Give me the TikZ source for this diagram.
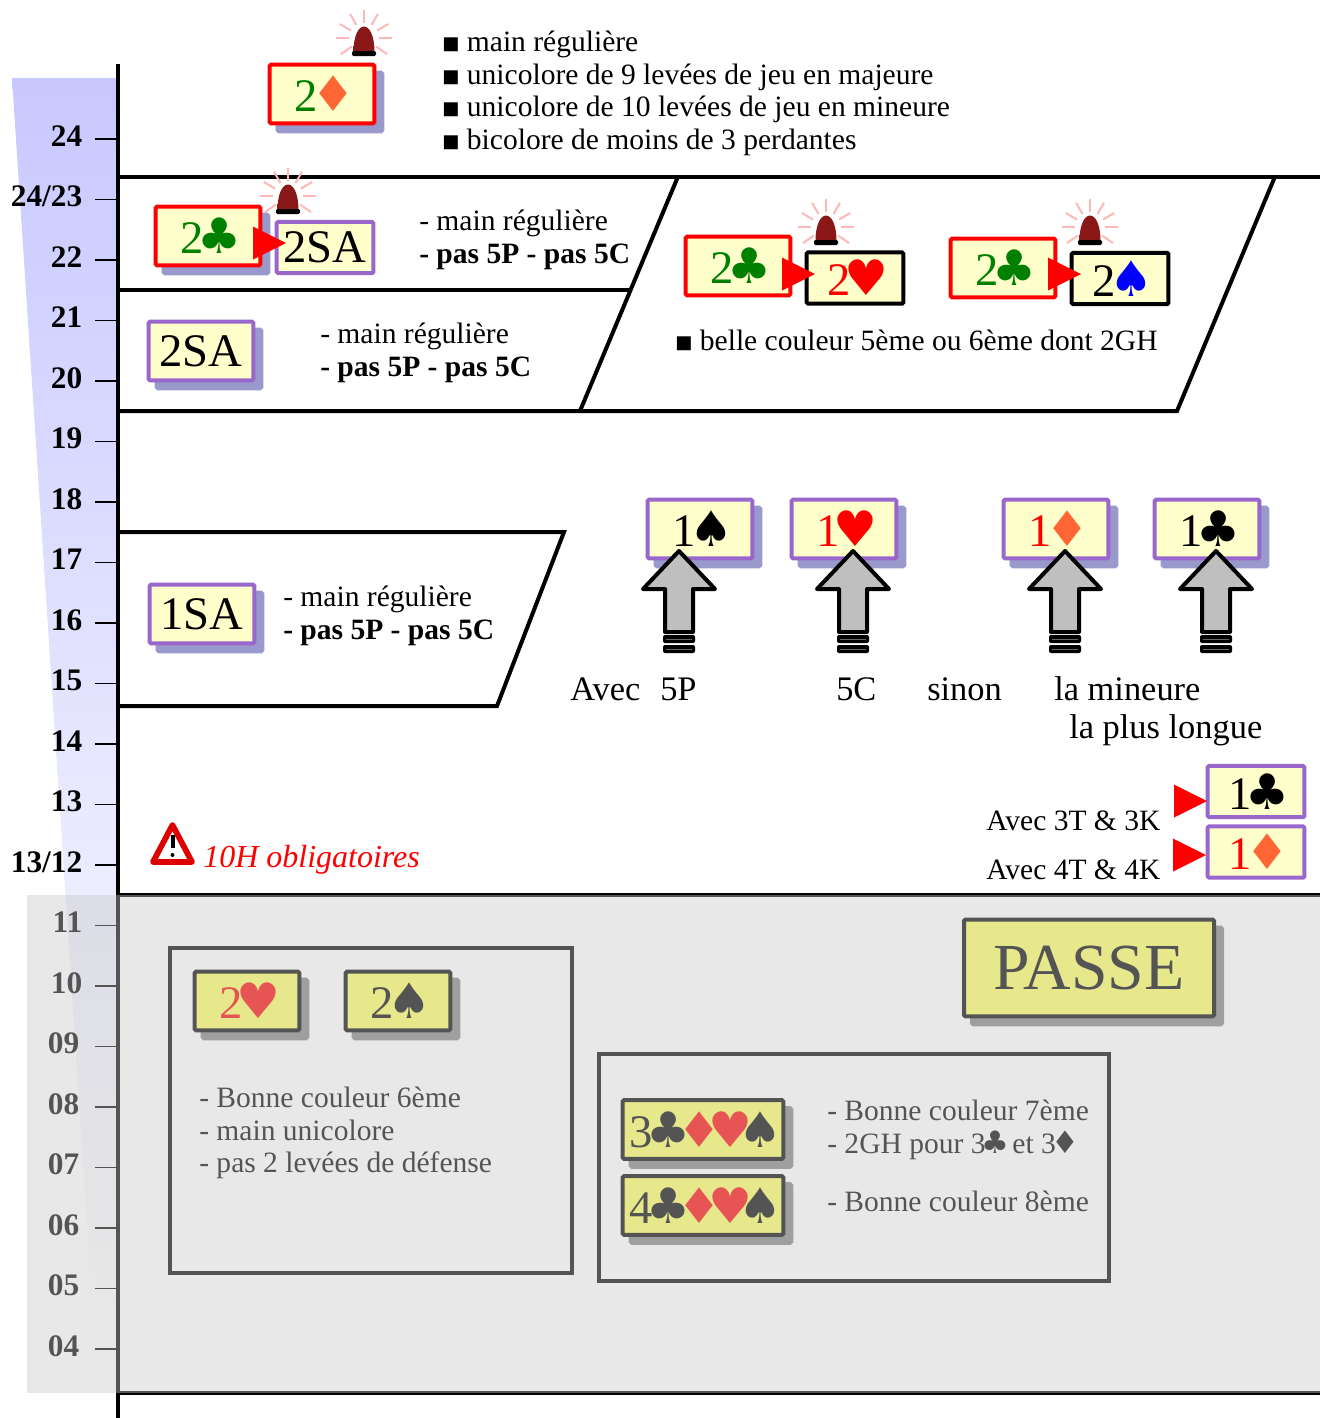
\documentclass[tikz,border=0pt]{standalone}
\usepackage{fontspec}
\setmainfont{Liberation Serif}
\newfontfamily\suitfont[Scale=1.05]{DejaVu Sans}
\usetikzlibrary{shadows}

\definecolor{cartefond}{HTML}{FFFFCC}
\definecolor{cartevif}{HTML}{FFFF60}
\definecolor{violet}{HTML}{9966CC}
\definecolor{ombre}{HTML}{9999CC}
\definecolor{ombregris}{HTML}{828282}
\definecolor{orange}{HTML}{FF6633}
\definecolor{vert}{HTML}{008000}
\definecolor{bandeau}{HTML}{C8C8FF}
\definecolor{domebord}{HTML}{8A1818}
\definecolor{domemilieu}{HTML}{C04040}

\newcommand{\trefle}{\kern-.14em{\suitfont ♣}\kern-.14em}
\newcommand{\carreau}{\kern-.14em{\suitfont ♦}\kern-.14em}
\newcommand{\coeur}{\kern-.14em{\suitfont ♥}\kern-.14em}
\newcommand{\pique}{\kern-.14em{\suitfont ♠}\kern-.14em}
\newcommand{\puce}{\raisebox{1.5pt}{\suitfont\fontsize{13}{13}\selectfont ■}\hspace{5.6pt}}
\newcommand{\corps}{\fontsize{22.15}{24.4}\selectfont}
\newcommand{\grand}{\fontsize{25.8}{28.5}\selectfont}

\tikzset{
    trait/.style={line width=3pt},
    carte/.style={rectangle, rounded corners=1pt, draw=violet, line width=3pt, fill=cartefond,
        inner sep=0pt, minimum width=78.5pt, minimum height=44pt, font=\fontsize{35}{35}\selectfont},
    petite/.style={carte, minimum width=72.5pt, minimum height=38.5pt},
    rouge/.style={draw=red},
    noire/.style={draw=black},
    ombree/.style={drop shadow={shadow xshift=6pt, shadow yshift=-6pt, draw=ombre, fill=ombre, opacity=1}},
    passee/.style={carte, draw=black, fill=cartevif,
        drop shadow={shadow xshift=6pt, shadow yshift=-6pt, draw=ombregris, fill=ombregris, opacity=1}},
    texte/.style={anchor=west, align=left, inner sep=0pt, font=\corps},
    cadre/.style={draw=black, line width=3pt},
    graduation/.style={draw=black, line width=1pt},
    pointe/.pic={\fill[red] (0,-16.5) -- (33,0) -- (0,16.5) -- cycle;},
    alarme/.pic={
        \foreach \ang in {-90,-60,-120,-30,-150,0,180,35,145}
            \draw[line width=1.5pt, color=red!28] (\ang:15) -- (\ang:28);
        \shade[left color=domebord, middle color=domemilieu, right color=domebord]
            (-10.5,14) .. controls (-10.5,-20) and (10.5,-20) .. (10.5,14) -- cycle;
        \fill[black, rounded corners=1pt] (-12,13) rectangle (12,18);
    },
    fleche/.pic={
        \draw[line width=3pt, fill=black!25, line join=round]
            (0,0) -- (36,38) -- (14,38) -- (14,81) -- (-14,81) -- (-14,38) -- (-36,38) -- cycle;
        \foreach \yy in {84,94} {
            \fill[black, rounded corners=1.5pt] (-16,\yy) rectangle (16,\yy+8);
            \draw[line width=.7pt, color=black!60] (-13,\yy+4) -- (13,\yy+4);
        }
    },
}

\begin{document}
\begin{tikzpicture}[x=0.75pt, y=-0.75pt]
    \useasboundingbox (0,0) rectangle (1320,1418);

    % bandeau des points
    \shade[top color=bandeau, bottom color=white] (12,78) -- (118,78) -- (118,1300) -- (92,1300) -- cycle;

    \foreach \lab/\lx [count=\i] in {24/82.5,{24/23}/82.5,22/82.5,21/82.5,20/82.5,19/82.5,18/82.5,17/82.5,16/82.5,15/82.5,14/82.5,13/82.5,{13/12}/82.5,11/82.5,10/82.5,09/79.5,08/79.5,07/79.5,06/79.5,05/79.5,04/79.5} {
        \pgfmathsetmacro{\yy}{139+60.5*(\i-1)}
        \draw[graduation] (95,\yy) -- (117,\yy);
        \node[anchor=east, inner sep=0pt, font=\bfseries\fontsize{23.5}{23.5}\selectfont] (lab\i) at (\lx,\yy-3) {\lab};
    }

    \coordinate (h1) at (118,176.5);
    \coordinate (h2) at (1320,176.5);
    \coordinate (m1) at (118,290);
    \coordinate (m2) at (630,290);
    \coordinate (b1) at (118,411);
    \coordinate (b2) at (580,411);
    \coordinate (b3) at (1177,411);
    \coordinate (t1) at (678,176.5);
    \coordinate (t2) at (1275,176.5);
    \coordinate (s1) at (118,532);
    \coordinate (s2) at (564,532);
    \coordinate (s3) at (497,706);
    \coordinate (s4) at (118,706);
    \coordinate (g1) at (118,894.5);
    \coordinate (g2) at (1320,894.5);
    \coordinate (g3) at (118,1393);
    \coordinate (g4) at (1320,1393);

    \draw[trait] (118,64) -- (118,1418);
    \draw[trait] (h1) -- (h2);
    \draw[trait] (m1) -- (m2);
    \draw[trait] (b1) -- (b3) -- (t2);
    \draw[trait] (b2) -- (t1);
    \draw[trait] (s1) -- (s2) -- (s3) -- (s4);
    \draw[trait] (g1) -- (g2);
    \draw[trait] (g3) -- (g4);

    % forts
    \pic at (364,38) {alarme};
    \node[carte, rouge, ombree] (deuxk) at (322,94) {\textcolor{vert}{2}\textcolor{orange}{\carreau}};
    \node[texte] (liste) at (442,93.5) {\puce main régulière\\\puce unicolore de 9 levées de jeu en majeure\\\puce unicolore de 10 levées de jeu en mineure\\\puce bicolore de moins de 3 perdantes};

    \pic at (288,196) {alarme};
    \node[carte, rouge, ombree] (deuxt) at (208,236) {\textcolor{vert}{2\trefle}};
    \node[petite] (deuxsa) at (325,247.5) {2SA};
    \pic at (253,243) {pointe};
    \node[texte] (regA) at (419,240) {- main régulière\\\textbf{- pas 5P - pas 5C}};

    \node[carte, ombree] (deuxsab) at (201,351) {2SA};
    \node[texte] (regB) at (320,353) {- main régulière\\\textbf{- pas 5P - pas 5C}};

    \pic at (826,227) {alarme};
    \node[carte, rouge] (deuxtc) at (738,266) {\textcolor{vert}{2\trefle}};
    \node[petite, noire] (deuxc) at (855,278) {\textcolor{red}{2\coeur}};
    \pic at (782,274) {pointe};
    \pic at (1090,227) {alarme};
    \node[carte, rouge] (deuxtp) at (1003,268) {\textcolor{vert}{2\trefle}};
    \node[petite, noire] (deuxp) at (1120,278.5) {2\textcolor{blue}{\pique}};
    \pic at (1048,274) {pointe};
    \node[texte] (belle) at (675,340.5) {\puce belle couleur 5ème ou 6ème dont 2GH};

    % ouvertures au palier de 1
    \node[carte, ombree] (unsa) at (202,614) {1SA};
    \node[texte] (regC) at (283,616) {- main régulière\\\textbf{- pas 5P - pas 5C}};

    \node[carte, ombree] (unp) at (700,529) {1\pique};
    \node[carte, ombree] (unc) at (844,529) {\textcolor{red}{1\coeur}};
    \node[carte, ombree] (unk) at (1056,529) {\textcolor{red}{1}\textcolor{orange}{\carreau}};
    \node[carte, ombree] (unt) at (1207,529) {1\trefle};
    \foreach \xx in {679,853,1065,1216}
        \pic at (\xx,551) {fleche};

    \node[texte, font=\grand] (avec) at (570,689) {Avec};
    \node[texte, font=\grand] (cinqp) at (660,689) {5P};
    \node[texte, font=\grand] (cinqc) at (836,689) {5C};
    \node[texte, font=\grand] (sinon) at (927,689) {sinon};
    \node[texte, font=\grand] (mineure) at (1054,689) {la mineure};
    \node[texte, font=\grand] (longue) at (1069,730) {la plus longue};

    \node[petite] (unth) at (1256,791.5) {1\trefle};
    \node[petite] (unkb) at (1256,852) {\textcolor{red}{1}\textcolor{orange}{\carreau}};
    \pic at (1174,801) {pointe};
    \pic at (1173,855) {pointe};
    \node[texte] (troist) at (986,820.5) {Avec 3T \& 3K};
    \node[texte] (quatret) at (986,869.5) {Avec 4T \& 4K};

    % avertissement
    \draw[line width=4.3pt, draw=red!87!black, fill=white, line join=round] (172.5,825) -- (192,862) -- (153,862) -- cycle;
    \draw[line width=3pt] (172.5,835) -- (172.5,848);
    \fill (172.5,855) circle (2);
    \node[texte, font=\itshape\fontsize{24}{24}\selectfont, text=red] (dixh) at (203,860) {10H obligatoires};

    % barrages et passe
    \node[passee, minimum width=187.5pt, minimum height=72.5pt, font=\fontsize{49.3}{49.3}\selectfont] (passe) at (1089,968) {PASSE};

    \draw[cadre] (170,948) rectangle (572,1273);
    \node[passee] (barc) at (247,1001) {\textcolor{red}{2\coeur}};
    \node[passee] (barp) at (398,1001) {2\pique};
    \node[texte] (six) at (199,1133) {- Bonne couleur 6ème\\- main unicolore\\- pas 2 levées de défense};

    \draw[cadre] (599,1054) rectangle (1109,1281);
    \node[passee, minimum width=120.5pt] (trois) at (703,1129.5) {3\trefle\textcolor{red}{\carreau\coeur}\pique};
    \node[passee, minimum width=120.5pt] (quatre) at (703,1205.5) {4\trefle\textcolor{red}{\carreau\coeur}\pique};
    \node[texte] (sept) at (827,1130) {- Bonne couleur 7ème\\- 2GH pour 3\trefle{} et 3\carreau};
    \node[texte] (huit) at (827,1201.5) {- Bonne couleur 8ème};

    % zone grisee
    \fill[black!21.5, opacity=0.4235] (27,895) rectangle (1320,1393);
\end{tikzpicture}
\end{document}
